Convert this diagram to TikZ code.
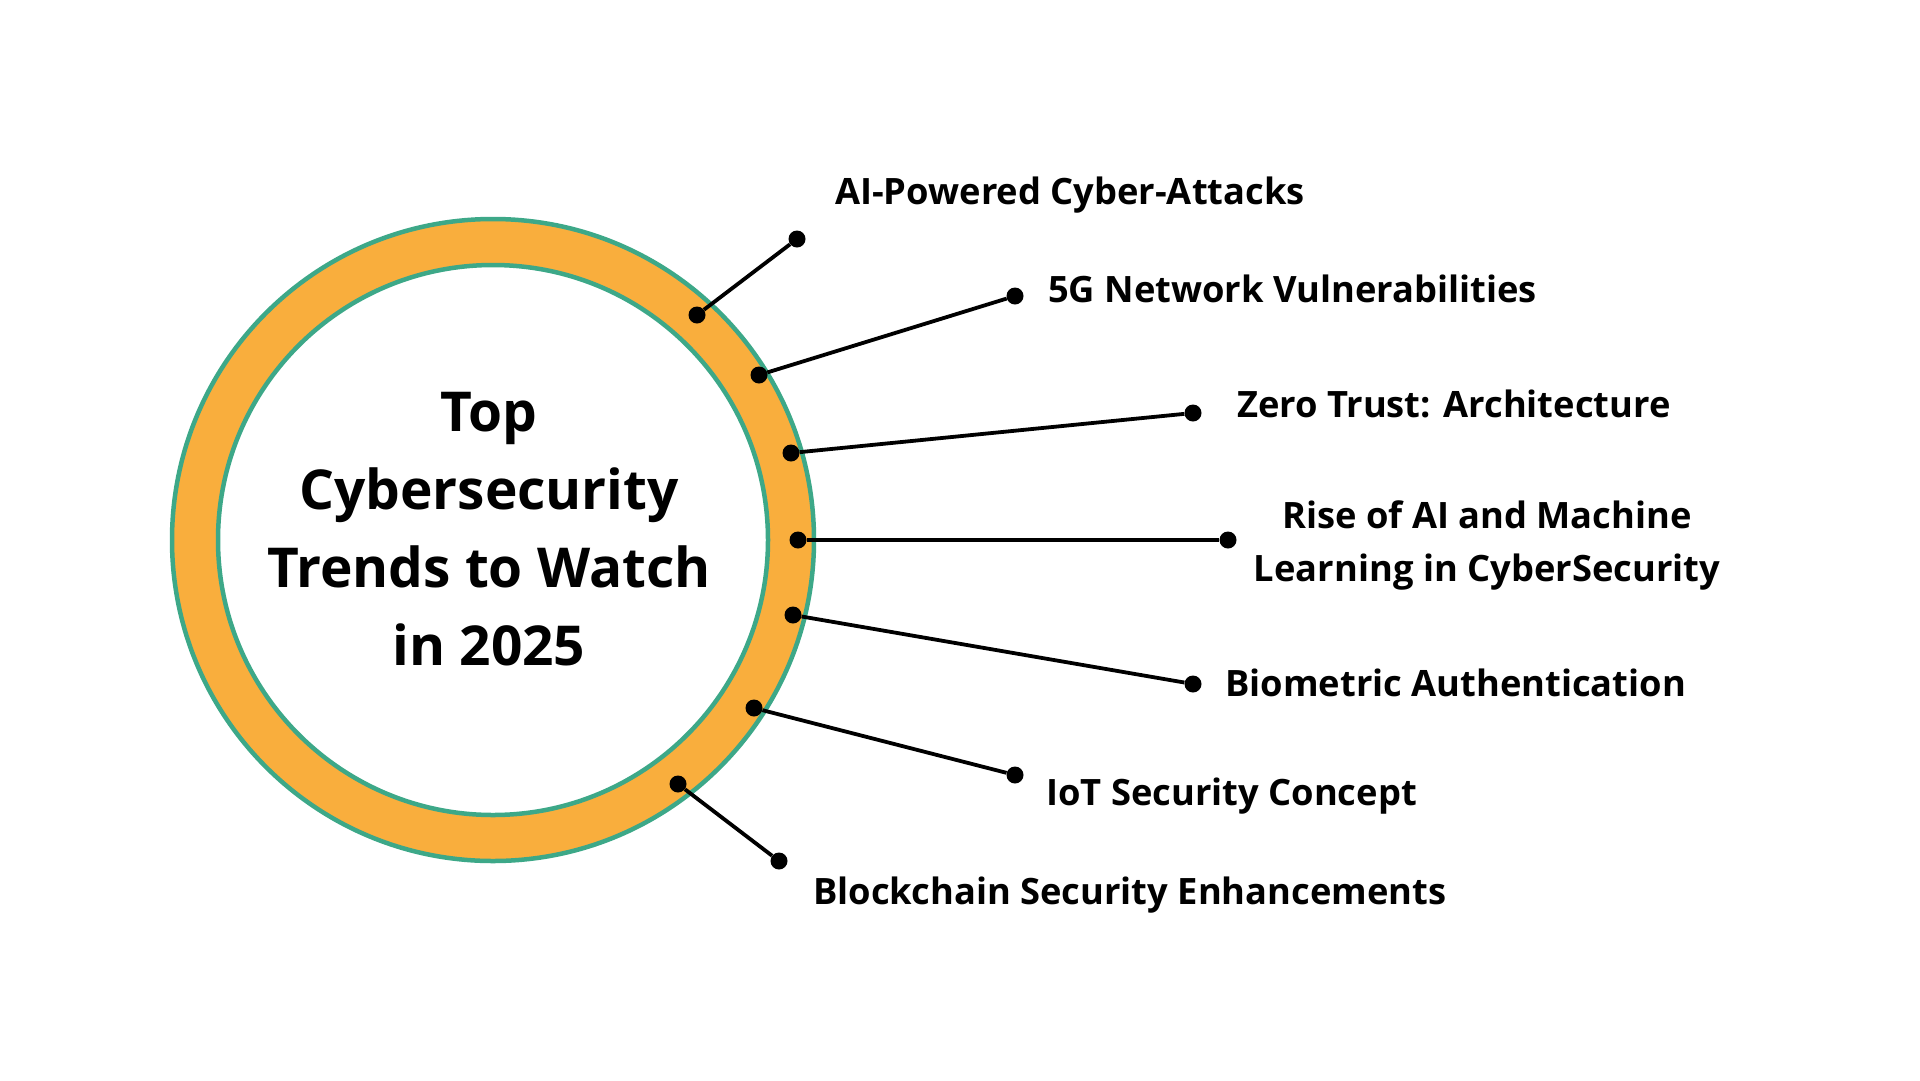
\documentclass[tikz,border=0pt]{standalone}
\usepackage{fontspec}
\setmainfont{Open Sans}
\definecolor{ringorange}{HTML}{F9AE3D}
\definecolor{ringteal}{HTML}{3DA888}
\tikzstyle{line} = [draw, line width=3.8pt]
\tikzstyle{dot} = [fill=black, circle, minimum size=17pt, inner sep=0pt]
\tikzstyle{ring} = [circle, fill=ringorange, draw=ringteal, line width=4.5pt, inner sep=0pt]
\tikzstyle{trend} = [anchor=base west, inner sep=0pt, font=\bfseries\fontsize{36.3}{53}\selectfont]

\begin{document}
\begin{tikzpicture}[x=1pt, y=-1pt]
        \path[fill=white] (0,0) rectangle (1920,1080);
        \useasboundingbox (0,0) rectangle (1920,1080);
        \node[ring, minimum size=642pt] (outer) at (493,540) {};
        \node[ring, fill=white, minimum size=550pt] (inner) at (493,540) {};
        \node[align=center, font=\bfseries\fontsize{55}{78}\selectfont] (title) at (489,529) {Top\\Cybersecurity\\Trends to Watch\\in 2025};
        \node[dot] (a1) at (697,315) {};
        \node[dot] (b1) at (797,239) {};
        \node[dot] (a2) at (759,375) {};
        \node[dot] (b2) at (1015,296) {};
        \node[dot] (a3) at (791,453) {};
        \node[dot] (b3) at (1193,413) {};
        \node[dot] (a4) at (798,540) {};
        \node[dot] (b4) at (1228,540) {};
        \node[dot] (a5) at (793,615) {};
        \node[dot] (b5) at (1193,684) {};
        \node[dot] (a6) at (754,708) {};
        \node[dot] (b6) at (1015,775) {};
        \node[dot] (a7) at (678,784) {};
        \node[dot] (b7) at (779,861) {};
        \node[trend] (t1) at (835,204) {AI-Powered Cyber-Attacks};
        \node[trend] (t2) at (1048,302) {5G Network Vulnerabilities};
        \node[trend] (t3) at (1237,417) {Zero Trust: Architecture};
        \node[trend, anchor=center, align=center] (t4) at (1487,545) {Rise of AI and Machine\\Learning in CyberSecurity};
        \node[trend] (t5) at (1225,696) {Biometric Authentication};
        \node[trend] (t6) at (1046,805) {IoT Security Concept};
        \node[trend] (t7) at (813,904) {Blockchain Security Enhancements};
        \path[line] (a1) -- (b1);
        \path[line] (a2) -- (b2);
        \path[line] (a3) -- (b3);
        \path[line] (a4) -- (b4);
        \path[line] (a5) -- (b5);
        \path[line] (a6) -- (b6);
        \path[line] (a7) -- (b7);
    \end{tikzpicture}
\end{document}
